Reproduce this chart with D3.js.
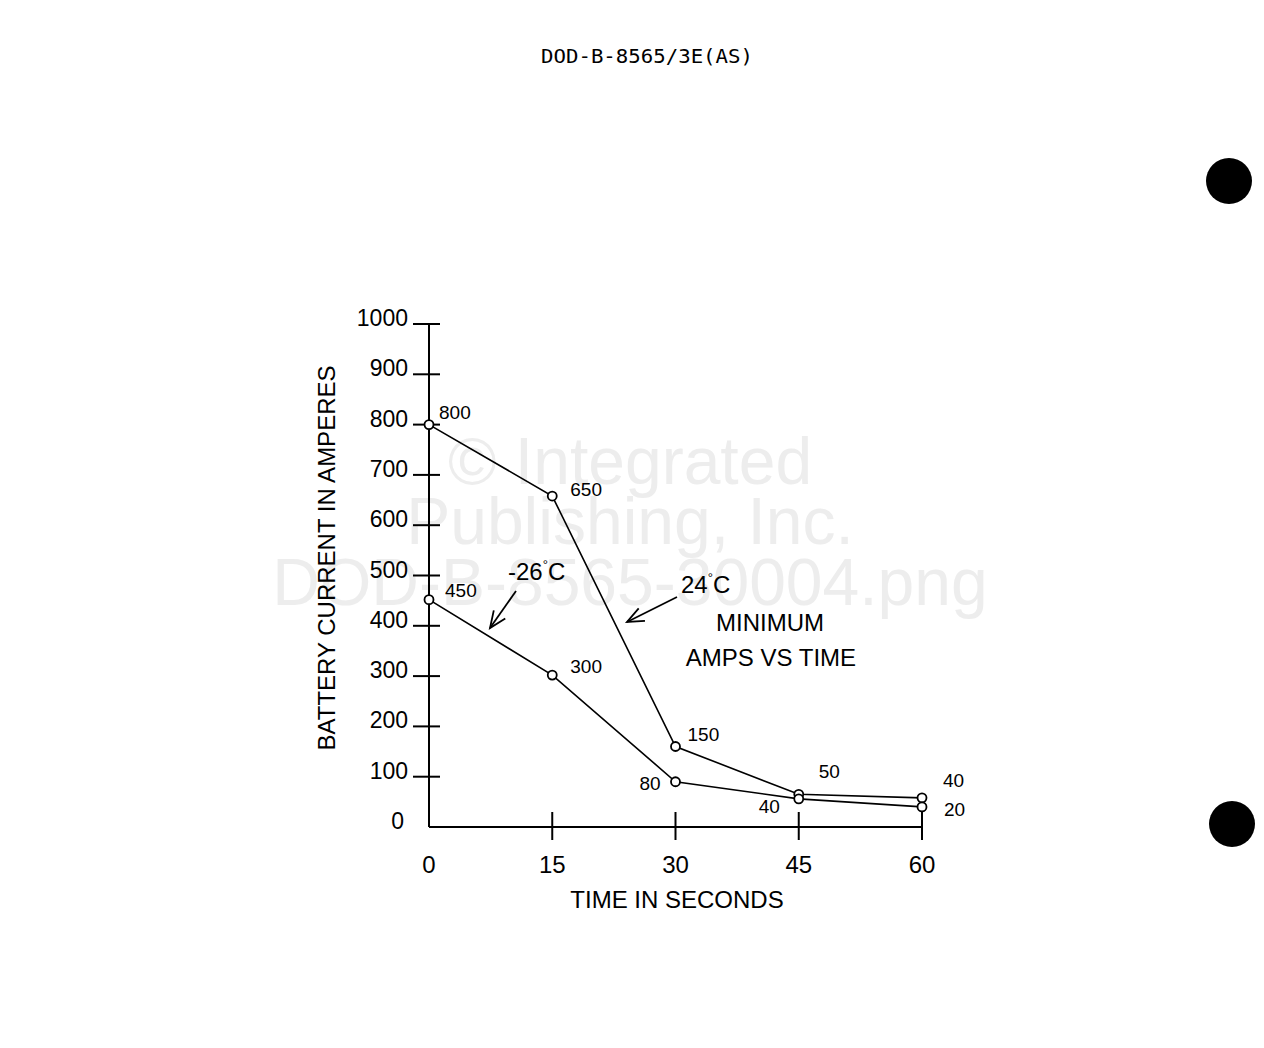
<!DOCTYPE html>
<html>
<head>
<meta charset="utf-8">
<script src="https://cdn.jsdelivr.net/npm/d3@7"></script>
<style>
  body { margin: 0; background: #fff; }
  svg { display: block; }
</style>
</head>
<body>
<svg id="chart" width="1264" height="1048"></svg>
<script>
// Data
const times = [0, 15, 30, 45, 60];
const yTicks = [0, 100, 200, 300, 400, 500, 600, 700, 800, 900, 1000];
// plotted positions (as drawn) and the printed labels
const warmValues = [800, 658, 160, 65, 58];
const warmLabels = ["800", "650", "150", "50", "40"];
const coldValues = [452, 302, 90, 56, 40];
const coldLabels = ["450", "300", "80", "40", "20"];

const svg = d3.select('#chart');
const font = '"Liberation Sans", Arial, sans-serif';

// Scales
const x = d3.scaleLinear().domain([0, 60]).range([429, 922]);
const y = d3.scaleLinear().domain([0, 1000]).range([827, 324]);

// Watermark
const wm = svg.append('g')
    .attr('fill', '#ededed')
    .attr('font-family', font)
    .attr('font-size', 66)
    .attr('text-anchor', 'middle');
wm.append('text').attr('x', 630).attr('y', 484).text('© Integrated');
wm.append('text').attr('x', 630).attr('y', 544).text('Publishing, Inc.');
wm.append('text').attr('x', 630).attr('y', 605).text('DOD-B-8565-30004.png');

// Header
svg.append('text')
    .attr('x', 541).attr('y', 63)
    .attr('font-family', '"DejaVu Sans Mono", monospace')
    .attr('font-size', 19)
    .attr('textLength', 212)
    .attr('lengthAdjust', 'spacingAndGlyphs')
    .text('DOD-B-8565/3E(AS)');

// Y axis
const ax = svg.append('g').attr('stroke', '#000').attr('stroke-width', 2);
ax.append('line')
    .attr('x1', x(0)).attr('x2', x(0))
    .attr('y1', y(1000)).attr('y2', y(0));
ax.selectAll('.ytick')
    .data(yTicks.filter(d => d > 0))
    .join('line')
    .attr('class', 'ytick')
    .attr('x1', x(0) - 16).attr('x2', x(0) + 11)
    .attr('y1', d => y(d)).attr('y2', d => y(d));

svg.append('g')
    .attr('font-family', font)
    .attr('font-size', 23)
    .attr('text-anchor', 'end')
    .selectAll('text')
    .data(yTicks)
    .join('text')
    .attr('x', d => d === 0 ? 404 : 408)
    .attr('y', d => y(d) + 2)
    .text(d => d);

// X axis
ax.append('line')
    .attr('x1', x(0)).attr('x2', x(60))
    .attr('y1', y(0)).attr('y2', y(0));
ax.selectAll('.xtick')
    .data(times.filter(d => d > 0))
    .join('line')
    .attr('class', 'xtick')
    .attr('x1', d => x(d)).attr('x2', d => x(d))
    .attr('y1', y(0) - 15).attr('y2', y(0) + 13);

svg.append('g')
    .attr('font-family', font)
    .attr('font-size', 24)
    .attr('text-anchor', 'middle')
    .selectAll('text')
    .data(times)
    .join('text')
    .attr('x', d => x(d))
    .attr('y', 873)
    .text(d => d);

// Axis titles
svg.append('text')
    .attr('x', 677).attr('y', 908)
    .attr('font-family', font).attr('font-size', 24)
    .attr('text-anchor', 'middle')
    .text('TIME IN SECONDS');
svg.append('text')
    .attr('transform', 'translate(335,558) rotate(-90)')
    .attr('font-family', font).attr('font-size', 24)
    .attr('text-anchor', 'middle')
    .text('BATTERY CURRENT IN AMPERES');

// Series
const series = [
  { values: warmValues, labels: warmLabels,
    offsets: [[10, -6], [18, 0], [12, -6], [20, -16], [21, -11]] },
  { values: coldValues, labels: coldLabels,
    offsets: [[16, -3], [18, -2], [-36, 8], [-40, 14], [22, 9]] }
];

const line = d3.line().x(d => x(d[0])).y(d => y(d[1]));

series.forEach(s => {
  const pts = times.map((t, i) => [t, s.values[i]]);
  svg.append('path')
      .datum(pts)
      .attr('d', line)
      .attr('fill', 'none')
      .attr('stroke', '#000')
      .attr('stroke-width', 1.6);
  svg.append('g').selectAll('circle')
      .data(pts)
      .join('circle')
      .attr('cx', d => x(d[0]))
      .attr('cy', d => y(d[1]))
      .attr('r', 4.5)
      .attr('fill', '#fff')
      .attr('stroke', '#000')
      .attr('stroke-width', 1.8);
  svg.append('g')
      .attr('font-family', font)
      .attr('font-size', 19)
      .selectAll('text')
      .data(pts)
      .join('text')
      .attr('x', (d, i) => x(d[0]) + s.offsets[i][0])
      .attr('y', (d, i) => y(d[1]) + s.offsets[i][1])
      .text((d, i) => s.labels[i]);
});

// Series annotations with arrows
const note = svg.append('g').attr('font-family', font).attr('font-size', 24);
[['-26', 508, 580], ['24', 681, 593]].forEach(([num, nx, ny]) => {
  const t = note.append('text').attr('x', nx).attr('y', ny);
  t.append('tspan').text(num);
  t.append('tspan').attr('font-size', 13).attr('dy', -11).text('°');
  t.append('tspan').attr('dy', 11).text('C');
});

const arrows = [
  [[516, 591], [490, 628]],
  [[677, 597], [627, 622]]
];
arrows.forEach(([a, b]) => {
  const ang = Math.atan2(b[1] - a[1], b[0] - a[0]);
  const len = 18, spread = 0.4;
  const g = svg.append('g').attr('stroke', '#000').attr('stroke-width', 1.8).attr('fill', 'none');
  g.append('line').attr('x1', a[0]).attr('y1', a[1]).attr('x2', b[0]).attr('y2', b[1]);
  g.append('path').attr('d', d3.line()([
    [b[0] - len * Math.cos(ang - spread), b[1] - len * Math.sin(ang - spread)],
    b,
    [b[0] - len * Math.cos(ang + spread), b[1] - len * Math.sin(ang + spread)]
  ]));
});

// Chart title
const title = svg.append('g')
    .attr('font-family', font).attr('font-size', 24)
    .attr('text-anchor', 'middle');
title.append('text').attr('x', 770).attr('y', 631).text('MINIMUM');
title.append('text').attr('x', 771).attr('y', 666).text('AMPS VS TIME');

// Binder holes from the scan
svg.append('circle').attr('cx', 1229).attr('cy', 181).attr('r', 23);
svg.append('circle').attr('cx', 1232).attr('cy', 824).attr('r', 23);
</script>
</body>
</html>
